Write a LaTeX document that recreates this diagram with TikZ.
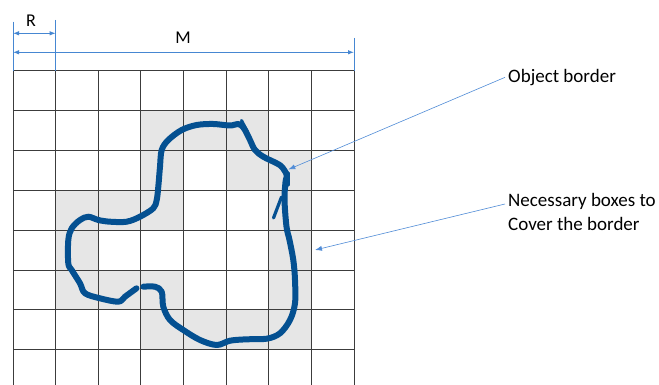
\documentclass[tikz,border=0pt]{standalone}
\usepackage{fontspec}
\setmainfont{Carlito}
\usetikzlibrary{arrows.meta}
\definecolor{gridc}{RGB}{60,60,60}
\definecolor{cellc}{RGB}{230,230,230}
\definecolor{curvec}{RGB}{4,80,145}
\definecolor{dimc}{RGB}{70,135,210}
\definecolor{leadc}{RGB}{80,140,215}
\tikzset{
  gridline/.style={draw=gridc,line width=0.9pt},
  dimline/.style={draw=dimc,line width=0.9pt},
  dimarrow/.style={dimc,line width=0.9pt,{Latex[length=6pt,width=4.5pt]}-{Latex[length=6pt,width=4.5pt]}},
  leader/.style={leadc,line width=0.6pt,-{Latex[length=7pt,width=5pt]}},
  curve/.style={draw=curvec,line width=6pt,line cap=round,line join=round},
  spike/.style={draw=curvec,line width=3.2pt,line cap=round},
  lbl/.style={inner sep=0pt,font=\fontsize{19}{23.3}\selectfont,text=black}
}
\begin{document}
\begin{tikzpicture}[x=1pt,y=-1pt]
\useasboundingbox (0,0) rectangle (659,385);
\fill[white] (0,0) rectangle (659,385);
% shaded cells (col,row)
\foreach \c/\r in {3/1,4/1,5/1, 3/2,5/2,6/2, 1/3,2/3,3/3,6/3, 1/4,6/4, 1/5,2/5,3/5,6/5, 3/6,4/6,5/6,6/6}{
  \fill[cellc] ({13+\c*42.625},{70.7+\r*39.85}) rectangle ({13+(\c+1)*42.625},{70.7+(\r+1)*39.85});
}
% grid
\foreach \k in {0,...,7}{
  \draw[gridline] (13,{70.7+\k*39.85}) -- (354,{70.7+\k*39.85});
}
\foreach \k in {0,...,8}{
  \draw[gridline] ({13+\k*42.625},70.7) -- ({13+\k*42.625},385);
}
% dimension lines
\coordinate (e0t) at (13,21.7);
\coordinate (e0b) at (13,70.7);
\coordinate (e1t) at (55.6,20);
\coordinate (e1b) at (55.6,70.7);
\coordinate (e2t) at (354,38);
\coordinate (e2b) at (354,70.7);
\draw[dimline] (e0t) -- (e0b);
\draw[dimline] (e1t) -- (e1b);
\draw[dimline] (e2t) -- (e2b);
\coordinate (ra) at (13,33.3);
\coordinate (rb) at (55.6,33.3);
\coordinate (ma) at (13,52.3);
\coordinate (mb) at (354,52.3);
\draw[dimarrow] (ra) -- (rb);
\draw[dimarrow] (ma) -- (mb);
\node[lbl,font=\fontsize{18}{20}\selectfont] (rlab) at (31,21) {R};
\node[lbl,font=\fontsize{18}{20}\selectfont] (mlab) at (183,37.5) {M};
% object border curve
\draw[curve] plot[smooth,tension=0.55] coordinates{
(143.3,286.7) (155,286.7) (161.7,291.7) (163.3,306.7) (170,320) (183.3,330) (200,340)
(216.7,345) (230,340.7) (246.7,339.3) (266.7,338.7) (280,333.3) (290,320) (295,303.3)
(295,280) (293.3,260) (289.5,240) (286.5,226.7) (284.5,200) (285.5,182) (286.7,175)
(282,167) (276.7,163.3) (263.3,156.7) (255,150) (250,140) (246.7,133.3) (243,127)
(238,124) (230,125.5) (213.3,124) (196.7,125) (181.7,130) (168.3,140) (161.7,150)
(160,166.7) (158.3,186.7) (156.7,200) (153.3,208.3) (140,216.7) (126.7,221.7)
(110,221.7) (98.3,220) (88.3,216.7) (80,220) (71.7,228.3) (68.3,240) (68.3,263.3)
(71.7,270) (80,283.3) (85,293.3) (100,298.3) (118.3,301.7) (125,296.7) (136.5,288.3)};
\coordinate (s1a) at (241.5,120.5);
\coordinate (s1b) at (247.5,132);
\coordinate (s2a) at (273.5,218);
\coordinate (s2b) at (281.5,197);
\coordinate (s3a) at (288.5,185);
\coordinate (s3b) at (288.5,173);
\draw[spike] (s1a) -- (s1b);
\draw[spike] (s2a) -- (s2b);
\draw[spike] (s3a) -- (s3b);
% labels and leaders
\node[lbl,anchor=base west] (obj) at (508,82.3) {Object border};
\node[lbl,anchor=north west,align=left] (nec) at (508,193.4) {Necessary boxes to\\Cover the border};
\coordinate (objtip) at (288.3,169.5);
\coordinate (nectip) at (315,250);
\draw[leader] ([xshift=-3pt]obj.west) -- (objtip);
\draw[leader] ([xshift=-3pt,yshift=-10.6pt]nec.north west) -- (nectip);
\end{tikzpicture}
\end{document}
